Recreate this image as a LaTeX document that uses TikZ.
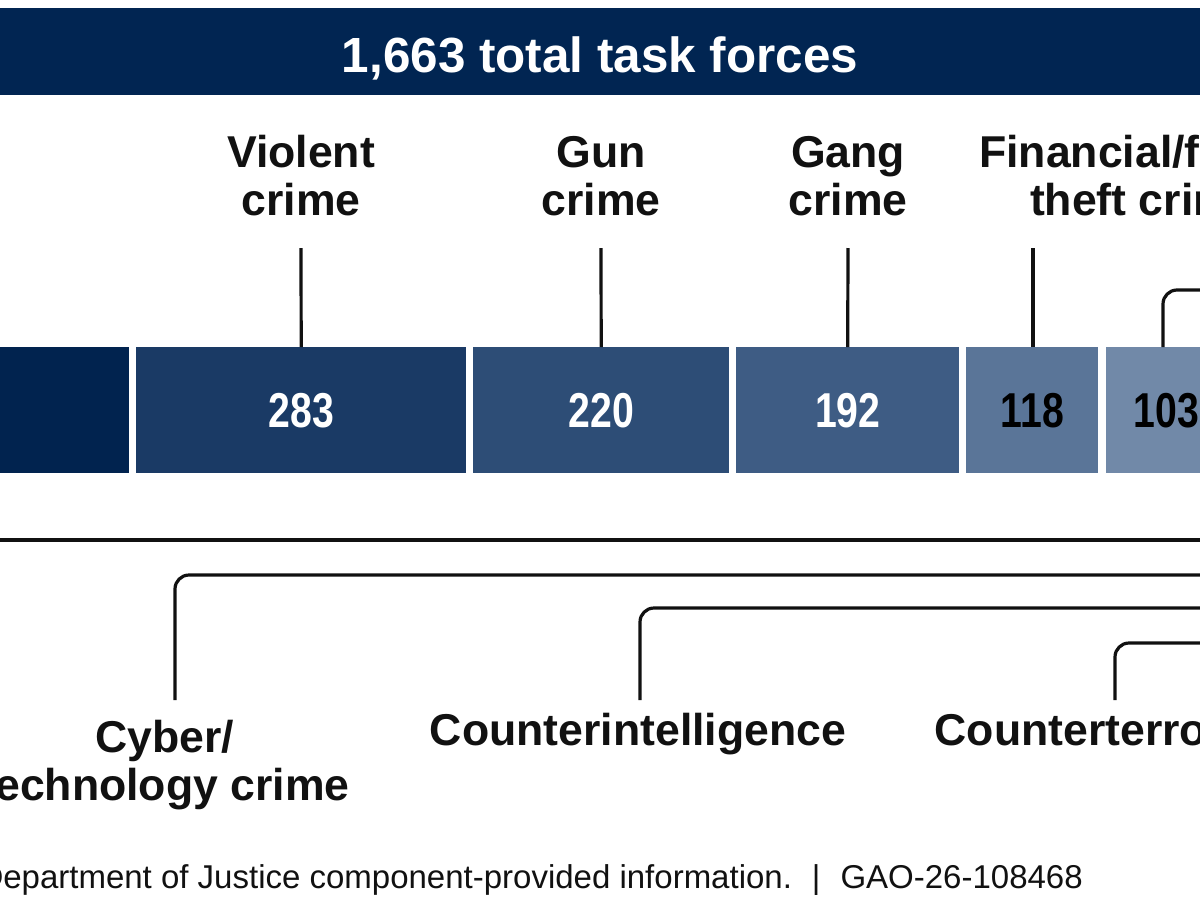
\documentclass[tikz,border=0pt]{standalone}
\usepackage{fontspec}
\setmainfont{Liberation Sans}
\definecolor{hdr}{HTML}{012552}
\definecolor{s0}{HTML}{01234F}
\definecolor{s1}{HTML}{1A3A65}
\definecolor{s2}{HTML}{2D4D76}
\definecolor{s3}{HTML}{3E5C84}
\definecolor{s4}{HTML}{5A7598}
\definecolor{s5}{HTML}{7189A8}
\definecolor{ink}{HTML}{111111}
\begin{document}
\begin{tikzpicture}[x=1pt,y=-1pt,
  seg/.style={rectangle, draw=none, inner sep=0pt, minimum height=126pt, anchor=north west,
    font=\bfseries\fontsize{49}{52}\selectfont},
  lab/.style={align=center, inner sep=0pt, font=\bfseries\fontsize{44.6}{48}\selectfont, text=ink, anchor=base},
  conn/.style={draw=ink, line width=3.2pt, rounded corners=14pt},
  bigconn/.style={draw=ink, line width=3.8pt}]
\useasboundingbox (0,0) rectangle (1200,900);
\clip (0,0) rectangle (1200,900);
\fill[white] (0,0) rectangle (1200,900);
% header
\node[rectangle, fill=hdr, inner sep=0pt, minimum width=1220pt, minimum height=87pt, anchor=north west] (head) at (-10,8) {};
\node[anchor=base, inner sep=0pt, text=white, font=\bfseries\fontsize{49.4}{52}\selectfont] (headtext) at (600,72) {1,663 total task forces};
% bar segments
\node[seg, fill=s0, minimum width=139pt] (b0) at (-10,347) {};
\node[seg, fill=s1, minimum width=330pt, text=white] (b1) at (136,347) {\scalebox{0.8}[1]{283}};
\node[seg, fill=s2, minimum width=256pt, text=white] (b2) at (473,347) {\scalebox{0.8}[1]{220}};
\node[seg, fill=s3, minimum width=223pt, text=white] (b3) at (736,347) {\scalebox{0.8}[1]{192}};
\node[seg, fill=s4, minimum width=132pt, text=black] (b4) at (966,347) {\scalebox{0.8}[1]{118}};
\node[seg, fill=s5, minimum width=120pt, text=black] (b5) at (1106,347) {\scalebox{0.8}[1]{103}};
% top labels (base = baseline of last line)
\node[lab] (lviol) at (301,215) {Violent\\crime};
\node[lab] (lgun) at (601,215) {Gun\\crime};
\node[lab] (lgang) at (848,215) {Gang\\crime};
\node[lab] (lfin) at (1144,215) {Financial/fraud/\\theft crime};
% top connectors
\coordinate (t1) at (301,248);
\coordinate (t2) at (601,248);
\coordinate (t3) at (848,248);
\coordinate (t4) at (1033,248);
\coordinate (t5) at (1230,290);
\draw[conn] (b1.north) -- (t1);
\draw[conn] (b2.north) -- (t2);
\draw[conn] (b3.north) -- (t3);
\draw[conn] (b4.north -| t4) -- (t4);
\draw[conn] (1163,347) -- (1163,290) -- (t5);
% bottom bracket lines
\coordinate (hl) at (-20,540);
\coordinate (hr) at (1230,540);
\draw[bigconn] (hl) -- (hr);
% bottom labels
\node[lab] (lcyber) at (165,800) {Cyber/\\technology crime};
\node[lab] (lci) at (638,745) {Counterintelligence};
\node[lab] (lct) at (1118,745) {Counterterrorism};
\coordinate (c1) at (175,700);
\coordinate (c2) at (640,700);
\coordinate (c3) at (1115,700);
\draw[conn] (c1) -- (175,575) -- (1230,575);
\draw[conn] (c2) -- (640,608) -- (1230,608);
\draw[conn] (c3) -- (1115,643) -- (1230,643);
% source
\node[anchor=base east, inner sep=0pt, text=ink, font=\fontsize{33}{36}\selectfont] (src) at (1083,888)
  {Department of Justice component-provided information.\hspace{20pt}|\hspace{20pt}GAO-26-108468};
\end{tikzpicture}
\end{document}
